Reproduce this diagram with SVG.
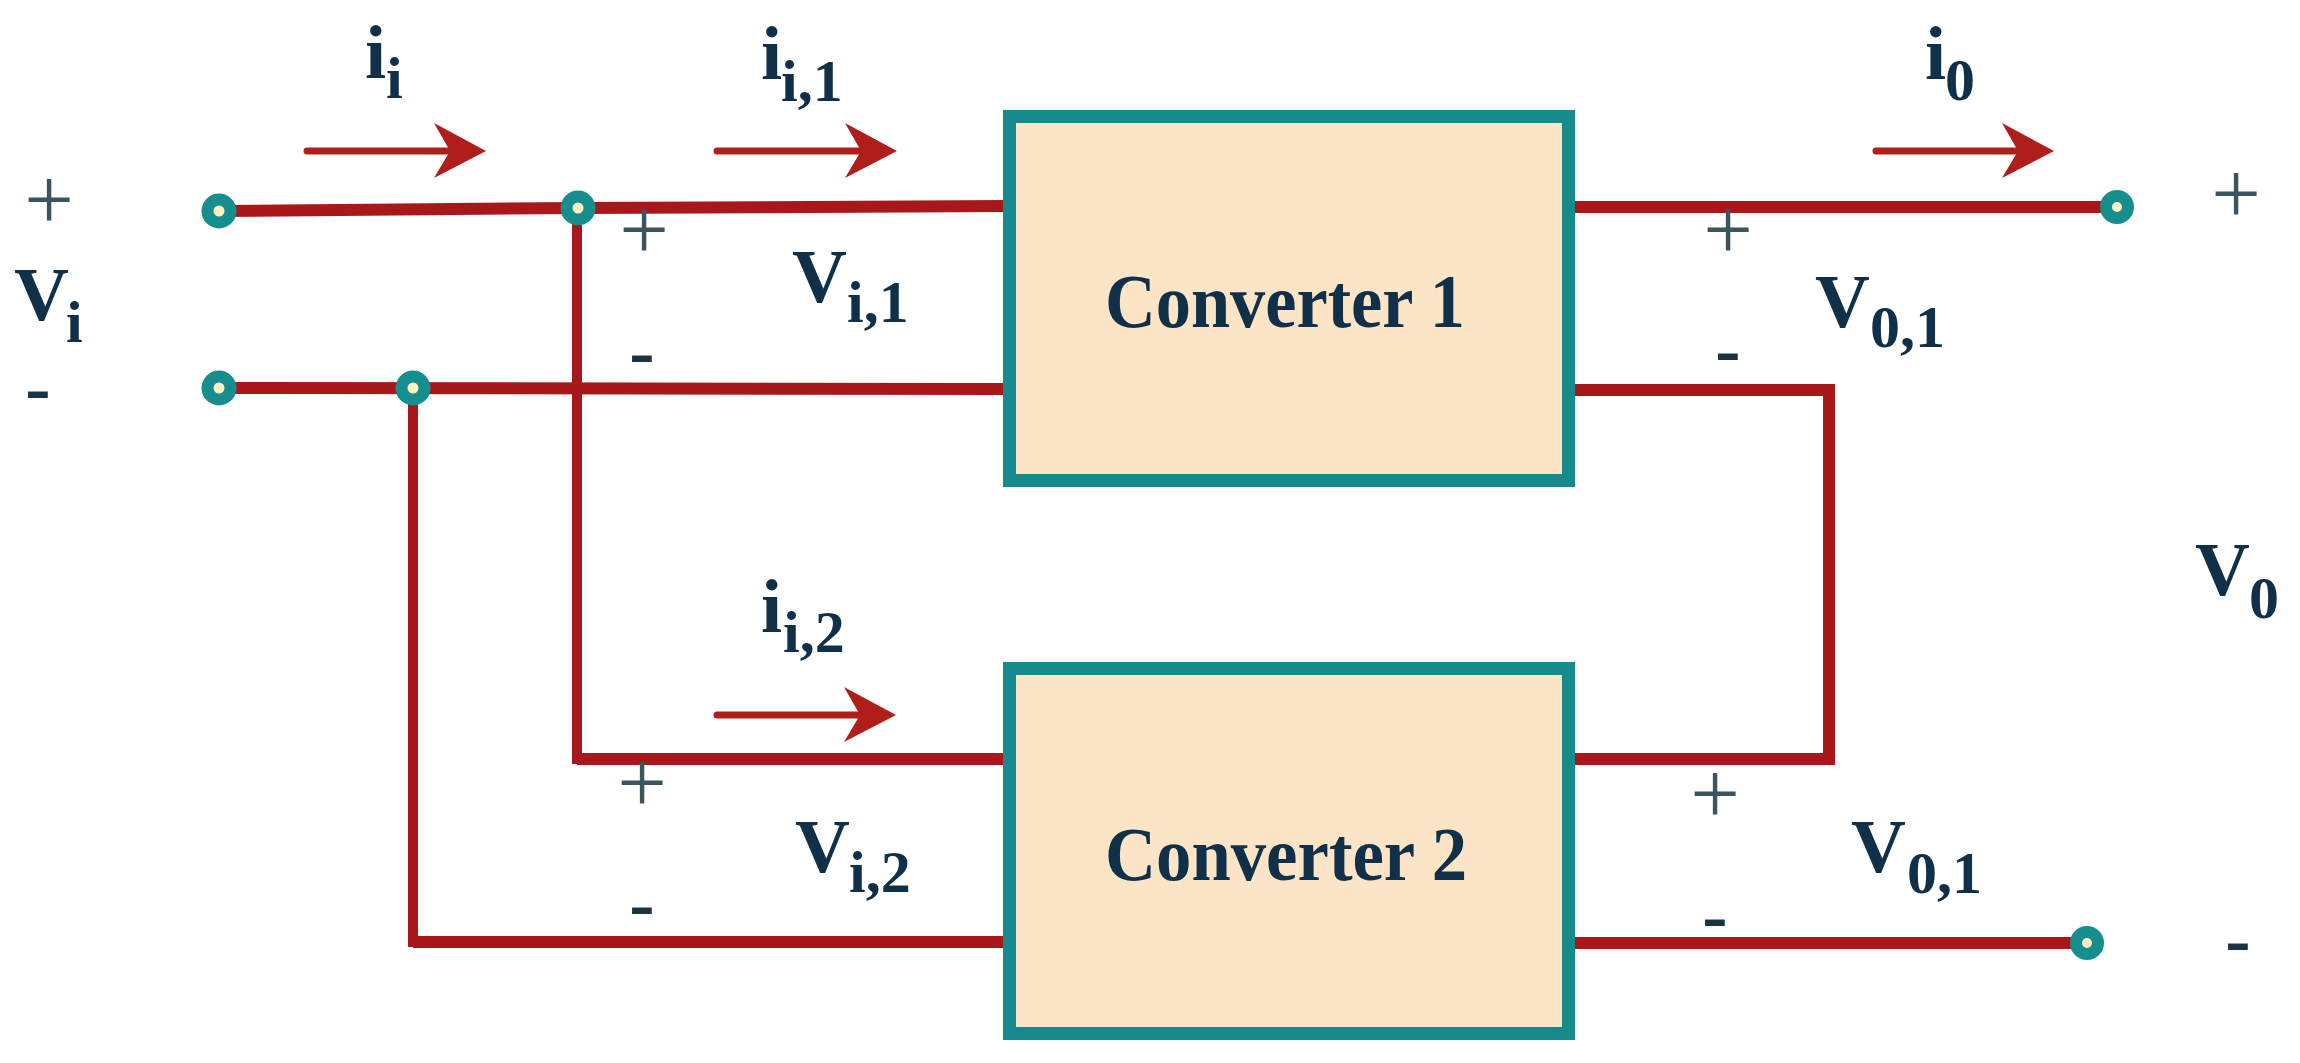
<svg xmlns="http://www.w3.org/2000/svg" xmlns:xlink="http://www.w3.org/1999/xlink" width="2300" height="1063" viewBox="0 0 2300 1063">
<style>
.wire{fill:none;stroke:#a8181a;stroke-width:12;stroke-linejoin:miter;stroke-linecap:butt}
.vwire{fill:none;stroke:#a8181a;stroke-width:10}
.box{fill:#fce5c7;stroke:#168a8c;stroke-width:13}
.term{fill:#fff2c2;stroke:#168e8e;stroke-width:12}
.shaft{stroke:#b01e1c;stroke-width:7;stroke-linecap:round}
.head{fill:#b01e1c}
.lbl{font-family:"Liberation Serif","Times New Roman",serif;font-weight:bold;fill:#10304a}
.big{font-size:76px}
.sub{font-size:60px}
.conv{font-family:"Liberation Serif","Times New Roman",serif;font-weight:bold;font-size:76px;fill:#10304a}
.plus{font-family:"Liberation Serif","Times New Roman",serif;font-size:88px;fill:#3a5560;text-anchor:middle}
.minus{font-family:"Liberation Serif","Times New Roman",serif;font-weight:bold;font-size:76px;fill:#1a3442;text-anchor:middle}
</style>
<defs>
<path id="ah" class="head" d="M0,0 L-52,-28 L-36,0 L-52,27 Z"/>
</defs>
<rect width="2300" height="1063" fill="#ffffff"/>
<g id="connectors">
<polyline class="wire" points="219,211 578,208 1009,206"/>
<line class="wire" x1="219" y1="388" x2="1009" y2="389"/>
<polyline class="vwire" points="577,208 577,759 1009,759"/>
<line class="wire" x1="577" y1="759" x2="1009" y2="759"/>
<polyline class="vwire" points="413,388 413,942 1009,942"/>
<line class="wire" x1="413" y1="942" x2="1009" y2="942"/>
<line class="wire" x1="1570" y1="207" x2="2117" y2="207"/>
<polyline class="wire" points="1570,390 1829,390 1829,759 1570,759"/>
<line class="vwire" x1="1829" y1="390" x2="1829" y2="759"/>
<line class="wire" x1="1570" y1="943" x2="2087" y2="943"/>
</g>
<g id="current-arrows">
<line class="shaft" x1="307" y1="151" x2="455" y2="151"/>
<use xlink:href="#ah" href="#ah" transform="translate(486,151)"/>
<line class="shaft" x1="717" y1="151" x2="866" y2="151"/>
<use xlink:href="#ah" href="#ah" transform="translate(897,151)"/>
<line class="shaft" x1="1876" y1="151" x2="2024" y2="151"/>
<use xlink:href="#ah" href="#ah" transform="translate(2054,151)"/>
<line class="shaft" x1="717" y1="715" x2="866" y2="715"/>
<use xlink:href="#ah" href="#ah" transform="translate(896,715)"/>
</g>
<g id="converter1">
<rect class="box" x="1009.5" y="116.5" width="559" height="364"/>
<text class="conv" x="1105" y="327" textLength="360" lengthAdjust="spacingAndGlyphs">Converter 1</text>
</g>
<g id="converter2">
<rect class="box" x="1009.5" y="668.5" width="559" height="365"/>
<text class="conv" x="1105" y="880" textLength="362" lengthAdjust="spacingAndGlyphs">Converter 2</text>
</g>
<g id="terminals">
<circle class="term" cx="219" cy="211" r="11.5"/>
<circle class="term" cx="578" cy="208" r="11.5"/>
<circle class="term" cx="219" cy="388" r="11.5"/>
<circle class="term" cx="413" cy="388" r="11.5"/>
<circle class="term" cx="2117" cy="207" r="11"/>
<circle class="term" cx="2087" cy="943" r="11"/>
</g>
<g id="labels">
<text class="lbl big" x="365" y="78">i</text><text class="lbl sub" x="386" y="98">i</text>
<text class="lbl big" x="761" y="79">i</text><text class="lbl sub" x="781" y="101">i,1</text>
<text class="lbl big" x="761" y="632">i</text><text class="lbl sub" x="783" y="652">i,2</text>
<text class="lbl big" x="1925" y="79">i</text><text class="lbl sub" x="1945" y="100">0</text>
<text class="lbl big" x="14" y="320">V</text><text class="lbl sub" x="66" y="342">i</text>
<text class="lbl big" x="792" y="302">V</text><text class="lbl sub" x="847" y="322">i,1</text>
<text class="lbl big" x="795" y="872">V</text><text class="lbl sub" x="849" y="892">i,2</text>
<text class="lbl big" x="1815" y="327">V</text><text class="lbl sub" x="1870" y="347">0,1</text>
<text class="lbl big" x="1851" y="872">V</text><text class="lbl sub" x="1907" y="893">0,1</text>
<text class="lbl big" x="2195" y="595">V</text><text class="lbl sub" x="2249" y="618">0</text>
<text class="plus" x="49" y="229">+</text>
<text class="plus" x="644" y="259">+</text>
<text class="plus" x="1728" y="259">+</text>
<text class="plus" x="2236" y="223">+</text>
<text class="plus" x="642" y="812">+</text>
<text class="plus" x="1715" y="823">+</text>
<text class="minus" x="38" y="413">-</text>
<text class="minus" x="642" y="377">-</text>
<text class="minus" x="1728" y="375">-</text>
<text class="minus" x="642" y="929">-</text>
<text class="minus" x="1715" y="941">-</text>
<text class="minus" x="2238" y="965">-</text>
</g>
</svg>
